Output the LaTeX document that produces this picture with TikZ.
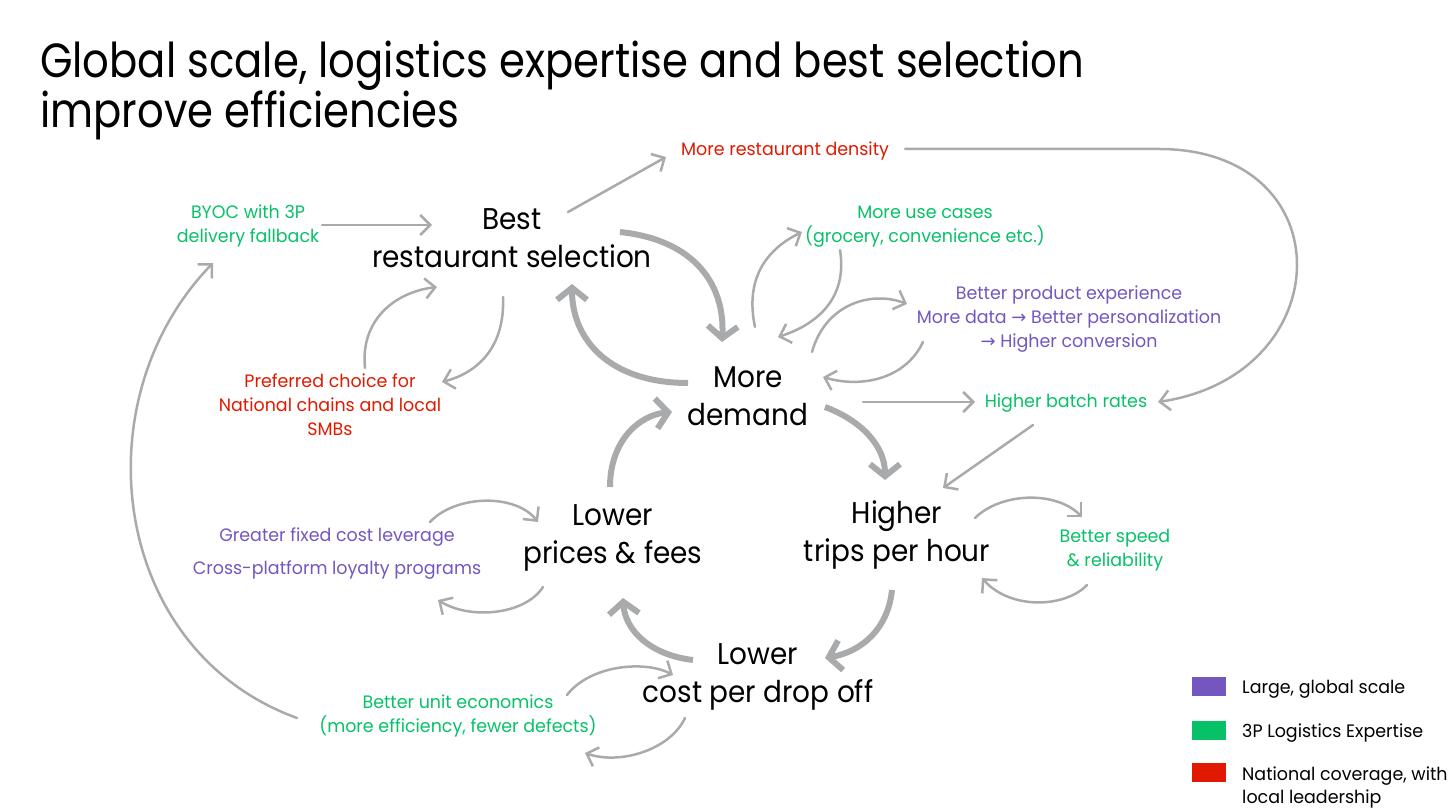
\documentclass[tikz,border=0pt]{standalone}
\usepackage{fontspec}
\setmainfont{Poppins}
\newfontfamily\titlef[FakeStretch=0.87]{Poppins}
\newfontfamily\mainf[FakeStretch=0.93]{Poppins}
\newfontfamily\smallf[FakeStretch=0.97]{Poppins}
\newfontfamily\symfont{DejaVu Sans}
\usetikzlibrary{arrows.meta}
\definecolor{upurple}{HTML}{7356BF}
\definecolor{ugreen}{HTML}{06C167}
\definecolor{ured}{HTML}{E11900}
\definecolor{ugray}{HTML}{A8AAAC}
\tikzset{
  mainlbl/.style={font=\mainf\fontsize{30}{38}\selectfont, align=center, inner sep=0pt, text=black},
  smalllbl/.style={font=\smallf\fontsize{18}{24}\selectfont, align=center, inner sep=0pt},
  titlelbl/.style={font=\titlef\fontsize{48}{50}\selectfont, anchor=base west, inner sep=0pt},
  thinarr/.style={draw=ugray, line width=2.5pt, line cap=round, -{Straight Barb[length=10pt,width=20pt]}},
  thickarr/.style={draw=ugray, line width=6pt, -{Straight Barb[length=12pt,width=30pt]}},
  legsq/.style={fill=#1, draw=none, minimum width=34pt, minimum height=19pt, inner sep=0pt},
  legtxt/.style={font=\smallf\fontsize{18}{23}\selectfont, anchor=base west, inner sep=0pt, align=left},
}
\begin{document}
\begin{tikzpicture}[x=1pt,y=-1pt]
\useasboundingbox (0,0) rectangle (1456,810);
% title
\node[titlelbl] (t1) at (40,78) {Global scale, logistics expertise and best selection};
\node[titlelbl] (t2) at (40,128) {improve efficiencies};
% main nodes
\node[mainlbl] (best) at (512,238) {Best\\restaurant selection};
\node[mainlbl] (demand) at (748,396) {More\\demand};
\node[mainlbl] (prices) at (613,538) {Lower\\prices \& fees};
\node[mainlbl] (trips) at (897,535) {Higher\\trips per hour};
\node[mainlbl] (cost) at (758,677) {Lower\\cost per drop off};
% small labels
\node[smalllbl, text=ured] (dens) at (785,151) {More restaurant density};
\node[smalllbl, text=ugreen] (byoc) at (248,226) {BYOC with 3P\\delivery fallback};
\node[smalllbl, text=ugreen] (uses) at (925,227) {More use cases\\(grocery, convenience etc.)};
\node[smalllbl, text=upurple] (prod) at (1069,319) {Better product experience\\More data {\symfont →} Better personalization\\{\symfont →} Higher conversion};
\node[smalllbl, text=ured] (pref) at (330,405) {Preferred choice for\\National chains and local\\SMBs};
\node[smalllbl, text=ugreen] (batch) at (1066,403) {Higher batch rates};
\node[smalllbl, text=upurple] (fixed) at (337,537) {Greater fixed cost leverage};
\node[smalllbl, text=upurple] (loyal) at (337,570) {Cross-platform loyalty programs};
\node[smalllbl, text=ugreen] (speed) at (1115,550) {Better speed\\\& reliability};
\node[smalllbl, text=ugreen] (unit) at (458,716) {Better unit economics\\(more efficiency, fewer defects)};
% legend
\node[legsq=upurple] (lg1) at (1209,686.5) {};
\node[legsq=ugreen] (lg2) at (1209,730.5) {};
\node[legsq=ured] (lg3) at (1209,772.5) {};
\node[legtxt] (lt1) at (1242,693) {Large, global scale};
\node[legtxt] (lt2) at (1242,737) {3P Logistics Expertise};
\node[legtxt] (lt3) at (1242,803) {National coverage, with\\local leadership};
% connectors
\draw[thinarr] ([shift={(74,-1)}]byoc.center) -- ([shift={(-80,-13)}]best.center);
\draw[thinarr] ([shift={(56,-26)}]best.center) -- ([shift={(-119,6)}]dens.center);
\draw[thinarr] ([shift={(120,-2)}]dens.center) -- (1160,149) .. controls (1345,150) and (1340,375) .. ([shift={(92,-1)}]batch.center);
\draw[thickarr] ([shift={(108,-6)}]best.center) .. controls (695,240) and (725,285) .. ([shift={(-26,-54)}]demand.center);
\draw[thickarr] ([shift={(-60,-13)}]demand.center) .. controls (610,383) and (572,340) .. ([shift={(60,46)}]best.center);
\draw[thinarr] ([shift={(7,-69)}]demand.center) .. controls (745,280) and (765,250) .. ([shift={(-123,5)}]uses.center);
\draw[thinarr] ([shift={(-85,23)}]uses.center) .. controls (848,300) and (815,325) .. ([shift={(30,-59)}]demand.center);
\draw[thinarr] ([shift={(64,-44)}]demand.center) .. controls (825,305) and (870,290) .. ([shift={(-162,-15)}]prod.center);
\draw[thinarr] ([shift={(-146,23)}]prod.center) .. controls (905,380) and (860,388) .. ([shift={(75,-19)}]demand.center);
\draw[thinarr] ([shift={(115,6)}]demand.center) -- ([shift={(-91,-1)}]batch.center);
\draw[thinarr] ([shift={(-33,22)}]batch.center) -- ([shift={(46,-47)}]trips.center);
\draw[thickarr] ([shift={(77,11)}]demand.center) .. controls (860,420) and (885,445) .. ([shift={(-12,-55)}]trips.center);
\draw[thinarr] ([shift={(78,-17)}]trips.center) .. controls (1000,493) and (1055,490) .. ([shift={(-33,-33)}]speed.center);
\draw[thinarr] ([shift={(-28,35)}]speed.center) .. controls (1065,608) and (1010,610) .. ([shift={(85,43)}]trips.center);
\draw[thickarr] ([shift={(-5,55)}]trips.center) .. controls (888,630) and (860,652) .. ([shift={(67,-19)}]cost.center);
\draw[thickarr] ([shift={(-65,-17)}]cost.center) .. controls (650,655) and (625,630) .. ([shift={(10,60)}]prices.center);
\draw[thickarr] ([shift={(-3,-51)}]prices.center) .. controls (610,440) and (640,415) .. ([shift={(-76,16)}]demand.center);
\draw[thinarr] ([shift={(93,-15)}]fixed.center) .. controls (455,495) and (515,493) .. ([shift={(-75,-16)}]prices.center);
\draw[thinarr] ([shift={(-70,49)}]prices.center) .. controls (525,615) and (470,620) .. ([shift={(101,30)}]loyal.center);
\draw[thinarr] ([shift={(109,-21)}]unit.center) .. controls (590,665) and (645,660) .. ([shift={(-85,-2)}]cost.center);
\draw[thinarr] ([shift={(-73,41)}]cost.center) .. controls (670,750) and (620,765) .. ([shift={(127,37)}]unit.center);
\draw[thinarr] ([shift={(-161,2)}]unit.center) .. controls (110,650) and (80,400) .. ([shift={(-35,37)}]byoc.center);
\draw[thinarr] ([shift={(-9,59)}]best.center) .. controls (505,345) and (480,372) .. ([shift={(112,-23)}]pref.center);
\draw[thinarr] ([shift={(35,-37)}]pref.center) .. controls (360,320) and (395,292) .. ([shift={(-75,49)}]best.center);
\end{tikzpicture}
\end{document}
